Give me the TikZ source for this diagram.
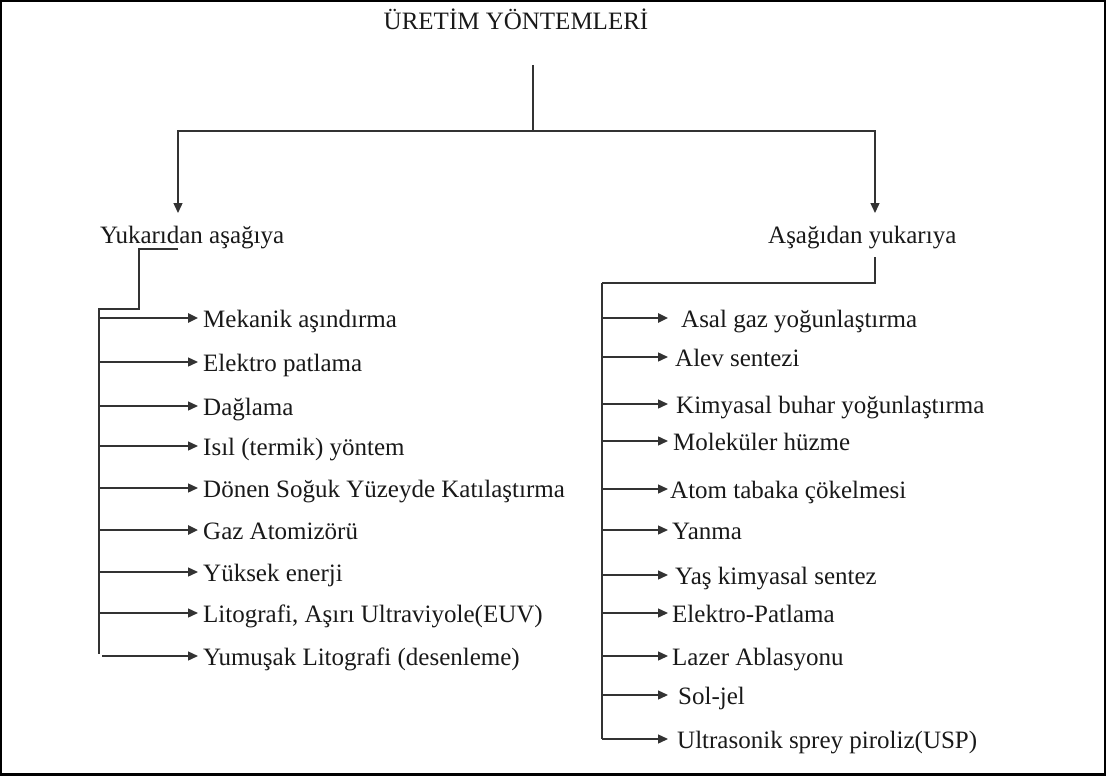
\documentclass[tikz,border=0pt]{standalone}
\usepackage{fontspec}
\setmainfont{Liberation Serif}
\usetikzlibrary{arrows.meta}
\begin{document}
\begin{tikzpicture}[x=1pt,y=-1pt,
  lbl/.style={inner sep=0pt, font=\fontsize{25}{30}\selectfont, text height=19pt, text depth=0pt, text=black!90},
  item/.style={lbl, anchor=west},
  conn/.style={line width=1.4pt, draw=black!80},
  arr/.style={conn, -{Triangle[length=10pt,width=9pt]}},
  thickarr/.style={arr, line width=2.4pt}
]
\useasboundingbox (0,0) rectangle (1106,776);
% frame
\draw[line width=2pt] (1,1) rectangle (1104.5,774);
\draw[line width=3.5pt] (0,774.5) -- (1106,774.5);

% title and branch labels
\node[lbl] (title) at (516,20) {ÜRETİM YÖNTEMLERİ};
\node[item] (left) at (100,234) {Yukarıdan aşağıya};
\node[item] (right) at (768,234) {Aşağıdan yukarıya};

% top connectors
\coordinate (c0) at (533,65);
\coordinate (c1) at (533,131);
\coordinate (lt) at (178,213);
\coordinate (rt) at (875,213);
\draw[conn] (c0) -- (c1);
\draw[arr] (c1) -| (lt);
\draw[arr] (c1) -| (rt);

% left branch
\coordinate (la) at (178,249);
\coordinate (lb) at (139,249);
\coordinate (lc) at (139,309);
\coordinate (ld) at (99,309);
\coordinate (le) at (99,654);
\coordinate (ltip) at (198,0);
\draw[conn] (la) -- (lb) -- (lc) -- (ld) -- (le);

\node[item] (m1) at (203,318) {Mekanik aşındırma};
\node[item] (m2) at (203,362) {Elektro patlama};
\node[item] (m3) at (203,406) {Dağlama};
\node[item] (m4) at (203,446) {Isıl (termik) yöntem};
\node[item] (m5) at (203,488) {Dönen Soğuk Yüzeyde Katılaştırma};
\node[item] (m6) at (203,530) {Gaz Atomizörü};
\node[item] (m7) at (203,572) {Yüksek enerji};
\node[item] (m8) at (203,613) {Litografi, Aşırı Ultraviyole(EUV)};
\node[item] (m9) at (203,656) {Yumuşak Litografi (desenleme)};

\draw[thickarr] (m1.west -| ld) -- (m1.west -| ltip);
\foreach \n in {m2,m3,m4,m5,m7,m8}
  \draw[arr] (\n.west -| ld) -- (\n.west -| ltip);
\draw[thickarr] (m6.west -| ld) -- (m6.west -| ltip);
\draw[arr] ([xshift=3pt]m9.west -| ld) -- (m9.west -| ltip);

% right branch
\coordinate (ra) at (875,257);
\coordinate (rb) at (875,283);
\coordinate (rc) at (602,283);
\coordinate (rtip) at (668,0);
\draw[conn] (ra) -- (rb) -- (rc);

\node[item] (r1) at (681,318) {Asal gaz yoğunlaştırma};
\node[item] (r2) at (675,357) {Alev sentezi};
\node[item] (r3) at (676,404) {Kimyasal buhar yoğunlaştırma};
\node[item] (r4) at (673,441) {Moleküler hüzme};
\node[item] (r5) at (670,489) {Atom tabaka çökelmesi};
\node[item] (r6) at (672,530) {Yanma};
\node[item] (r7) at (675,575) {Yaş kimyasal sentez};
\node[item] (r8) at (672,613) {Elektro-Patlama};
\node[item] (r9) at (672,656) {Lazer Ablasyonu};
\node[item] (r10) at (678,695) {Sol-jel};
\node[item] (r11) at (677,739) {Ultrasonik sprey piroliz(USP)};

\draw[conn] (rc) -- (r11.west -| rc);
\draw[thickarr] (r1.west -| rc) -- (r1.west -| rtip);
\foreach \n in {r2,r3,r4,r5,r6,r7,r8,r9,r10}
  \draw[arr] (\n.west -| rc) -- (\n.west -| rtip);
\draw[arr] (r11.west -| rc) -- (r11.west -| rtip);
\end{tikzpicture}
\end{document}
